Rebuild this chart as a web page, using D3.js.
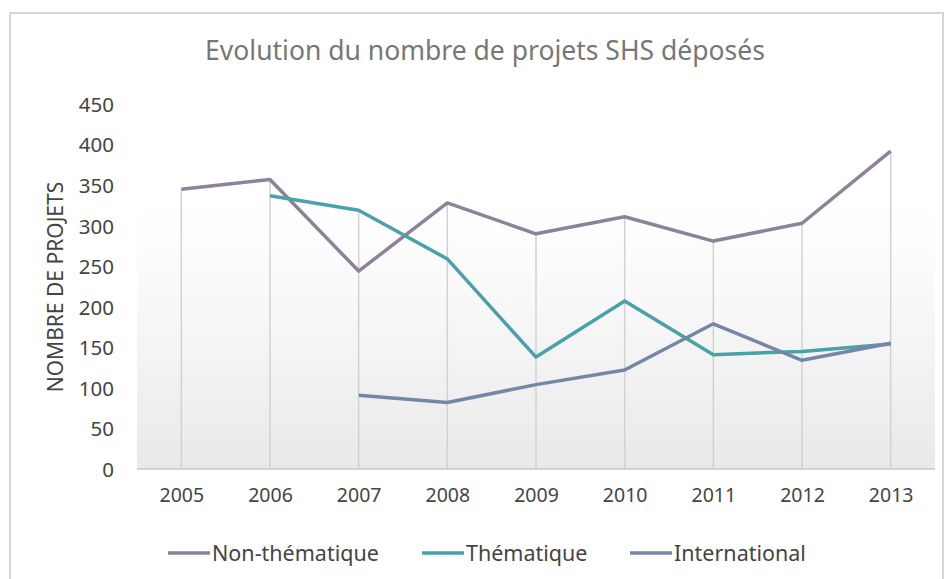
<!DOCTYPE html>
<html>
<head>
<meta charset="utf-8">
<script src="https://cdn.jsdelivr.net/npm/d3@7"></script>
<style>
  body { margin: 0; background: #fff; }
  text { font-family: "Noto Sans", "Open Sans", sans-serif; }
</style>
</head>
<body>
<svg id="chart" width="945" height="579"></svg>
<script>
// data
var years = ["2005", "2006", "2007", "2008", "2009", "2010", "2011", "2012", "2013"];
var nonThematique = [345, 357, 244, 328, 290, 311, 281, 303, 392];
var thematique = [null, 337, 319, 259, 138, 207, 141, 145, 154];
var international = [null, null, 91, 82, 104, 122, 179, 134, 155];
var yTicks = [0, 50, 100, 150, 200, 250, 300, 350, 400, 450];

var series = [
    {name: "Non-thématique", values: nonThematique, color: "#8f8197"},
    {name: "Thématique", values: thematique, color: "#4aa2a8"},
    {name: "International", values: international, color: "#7587a7"}
];

var svg = d3.select("#chart");

// plot area (careful: "top" is taken by window.top)
var pLeft = 137, pRight = 935, pTop = 104, pBottom = 469;

var x = d3.scalePoint().domain(years).range([pLeft, pRight]).padding(0.5);
var y = d3.scaleLinear().domain([0, 450]).range([pBottom, pTop]);

// outer frame
svg.append("rect")
    .attr("x", 10).attr("y", 13)
    .attr("width", 933).attr("height", 600)
    .attr("fill", "#fff")
    .attr("stroke", "#d6d6d6")
    .attr("stroke-width", 2);

// background gradient of the plot area
var grad = svg.append("defs").append("linearGradient")
    .attr("id", "bg").attr("x1", 0).attr("y1", 0).attr("x2", 0).attr("y2", 1);
grad.append("stop").attr("offset", "0%").attr("stop-color", "#ffffff");
grad.append("stop").attr("offset", "30%").attr("stop-color", "#fafafa");
grad.append("stop").attr("offset", "100%").attr("stop-color", "#e9e9e9");

svg.append("rect")
    .attr("x", pLeft).attr("y", y(330))
    .attr("width", pRight - pLeft).attr("height", pBottom - y(330))
    .attr("fill", "url(#bg)");

// title
svg.append("text")
    .attr("x", 485).attr("y", 60)
    .attr("text-anchor", "middle")
    .attr("fill", "#777")
    .style("font-size", "26.5px")
    .text("Evolution du nombre de projets SHS déposés");

// drop lines from the highest point of each year
svg.append("g").selectAll("line")
    .data(years)
    .enter()
    .append("line")
    .attr("x1", d => x(d)).attr("x2", d => x(d))
    .attr("y1", function (d, i) {
        var m = d3.max(series, s => s.values[i]);
        return y(m);
    })
    .attr("y2", y(0))
    .attr("stroke", "#d2d2d2")
    .attr("stroke-width", 1.5);

// y axis
var yAxis = svg.append("g")
    .attr("transform", "translate(" + (pLeft - 23) + ",0)")
    .call(d3.axisLeft(y).tickValues(yTicks).tickSize(0).tickPadding(0));
yAxis.select(".domain").remove();
yAxis.selectAll("text")
    .attr("fill", "#444")
    .attr("dy", "0.36em")
    .style("font-size", "20.5px")
    .style("font-family", "'Noto Sans', sans-serif");

// x axis
var xAxis = svg.append("g")
    .attr("transform", "translate(0," + pBottom + ")")
    .call(d3.axisBottom(x).tickSize(0).tickPadding(20));
xAxis.select(".domain")
    .attr("d", "M" + pLeft + ",0H" + pRight)
    .attr("stroke", "#c8c8c8")
    .attr("stroke-width", 1.5);
xAxis.selectAll("text")
    .attr("fill", "#444")
    .attr("dy", "0.68em")
    .style("font-size", "19.5px")
    .style("font-family", "'Noto Sans', sans-serif");

// y axis title
svg.append("text")
    .attr("transform", "translate(63," + 287 + ") rotate(-90)")
    .attr("text-anchor", "middle")
    .attr("fill", "#444")
    .style("font-size", "21px")
    .text("NOMBRE DE PROJETS");

// the lines
var line = d3.line()
    .defined(d => d != null)
    .x((d, i) => x(years[i]))
    .y(d => y(d));

svg.append("g").selectAll("path")
    .data(series)
    .enter()
    .append("path")
    .attr("d", d => line(d.values))
    .attr("fill", "none")
    .attr("stroke", d => d.color)
    .attr("stroke-width", 3.5)
    .attr("stroke-linejoin", "round");

// legend
var legendX = [168, 422, 630];
var lg = svg.append("g").selectAll("g")
    .data(series)
    .enter()
    .append("g")
    .attr("transform", (d, i) => "translate(" + legendX[i] + ",553)");
lg.append("line")
    .attr("x1", 0).attr("x2", 42)
    .attr("stroke", d => d.color)
    .attr("stroke-width", 3.5);
lg.append("text")
    .attr("x", 44).attr("dy", "0.36em")
    .attr("fill", "#444")
    .style("font-size", "21.5px")
    .text(d => d.name);
</script>
</body>
</html>
